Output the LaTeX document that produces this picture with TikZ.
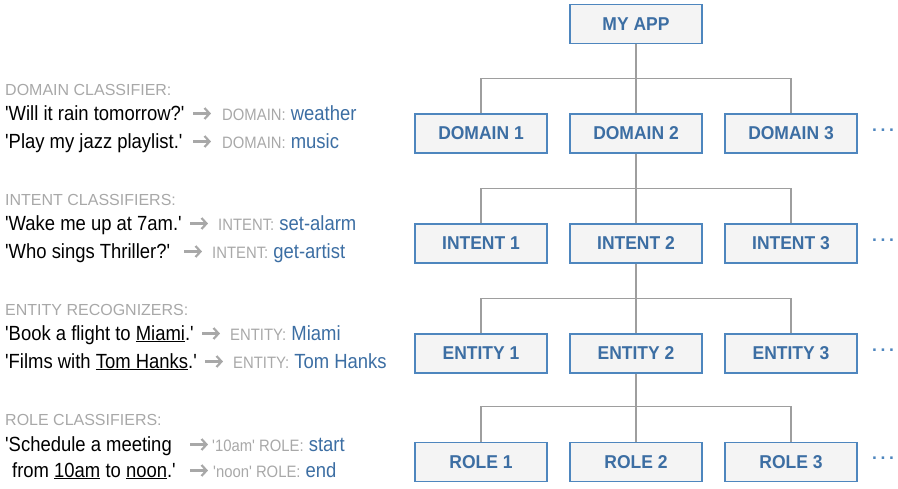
\documentclass[tikz,border=0pt]{standalone}
\usepackage{fontspec}
\setmainfont{Liberation Sans}[Ligatures=TeXOff]
\newfontfamily\bodyfont{Liberation Sans}[Ligatures=TeXOff,FakeStretch=0.9]
\newfontfamily\boxfont{Liberation Sans}[FakeStretch=0.94]
\usetikzlibrary{arrows.meta}
\definecolor{boxblue}{RGB}{78,134,190}
\definecolor{txtblue}{RGB}{60,110,163}
\definecolor{boxfill}{RGB}{244,244,244}
\definecolor{lightgrey}{RGB}{168,168,168}
\definecolor{linegrey}{RGB}{158,158,158}
\newcommand{\hd}[1]{{\rmfamily\fontsize{16}{19}\selectfont\color{lightgrey}#1}}
\newcommand{\lb}[1]{{\bodyfont\fontsize{16.5}{19}\selectfont\color{lightgrey}#1}}
\newcommand{\vl}[1]{{\color{txtblue}#1}}

\begin{document}
\begin{tikzpicture}[x=1pt,y=-1pt,
    box/.style={draw=boxblue,fill=boxfill,line width=1.3pt,minimum width=132pt,
      minimum height=39pt,inner sep=0pt,text=txtblue,
      font=\boxfont\fontsize{18.6}{21}\selectfont\bfseries},
    link/.style={draw=linegrey,line width=1.1pt},
    txt/.style={anchor=base west,inner sep=0pt,font=\bodyfont\fontsize{20.5}{24}\selectfont},
    resarrow/.style={draw=lightgrey,line width=2.2pt,
      -{Straight Barb[length=5pt,width=11pt]}}]
    \useasboundingbox (0,0) rectangle (898,488);

    \node[box] (app) at (636,24) {MY APP};
    \foreach \row/\lab/\y in {d/DOMAIN/133.5,i/INTENT/243.5,e/ENTITY/353.5,r/ROLE/462}{
      \foreach \k/\x in {1/481,2/636,3/791}
        \node[box] (\row\k) at (\x,\y) {\lab\ \k};
      \node[inner sep=0pt,text=boxblue,font=\fontsize{17.5}{20}\selectfont\bfseries]
        (\row dots) at (883,\y-3.5) {.\kern3.6pt.\kern3.6pt.};
      \coordinate (\row br) at ([yshift=35pt]\row2.north);
      \draw[link] (\row1.north) |- (\row br) -| (\row3.north);
    }
    \draw[link] (app) -- (d2);
    \draw[link] (d2) -- (i2);
    \draw[link] (i2) -- (e2);
    \draw[link] (e2) -- (r2);

    \node[txt] (dhead) at (5,95) {\hd{DOMAIN CLASSIFIER:}};
    \node[txt] (dq1) at (5,120) {'Will it rain tomorrow?'};
    \node[txt] (dq2) at (5,148) {'Play my jazz playlist.'};
    \node[txt] (dres1) at (222,120) {\lb{DOMAIN:} \vl{weather}};
    \node[txt] (dres2) at (222,148) {\lb{DOMAIN:} \vl{music}};

    \node[txt] (ihead) at (5,205) {\hd{INTENT CLASSIFIERS:}};
    \node[txt] (iq1) at (5,230) {'Wake me up at 7am.'};
    \node[txt] (iq2) at (5,258) {'Who sings Thriller?'};
    \node[txt] (ires1) at (218,230) {\lb{INTENT:} \vl{set-alarm}};
    \node[txt] (ires2) at (212,258) {\lb{INTENT:} \vl{get-artist}};

    \node[txt] (ehead) at (5,315) {\hd{ENTITY RECOGNIZERS:}};
    \node[txt] (eq1) at (5,340) {'Book a flight to \underline{Miami}.'};
    \node[txt] (eq2) at (5,368) {'Films with \underline{Tom Hanks}.'};
    \node[txt] (eres1) at (230,340) {\lb{ENTITY:} \vl{Miami}};
    \node[txt] (eres2) at (233,368) {\lb{ENTITY:} \vl{Tom Hanks}};

    \node[txt] (rhead) at (5,425) {\hd{ROLE CLASSIFIERS:}};
    \node[txt] (rq1) at (5,451) {'Schedule a meeting};
    \node[txt] (rq2) at (12,477) {from \underline{10am} to \underline{noon}.'};
    \node[txt] (rres1) at (212,451) {\lb{'10am' ROLE:} \vl{start}};
    \node[txt] (rres2) at (213,477) {\lb{'noon' ROLE:} \vl{end}};

    \foreach \n/\g in {dres1/11,dres2/11,ires1/10,ires2/10,eres1/10,eres2/10,rres1/4,rres2/5}
      \draw[resarrow] ([xshift=-\g pt-18pt,yshift=6.5pt]\n.base west)
        -- ([xshift=-\g pt,yshift=6.5pt]\n.base west);
  \end{tikzpicture}
\end{document}
